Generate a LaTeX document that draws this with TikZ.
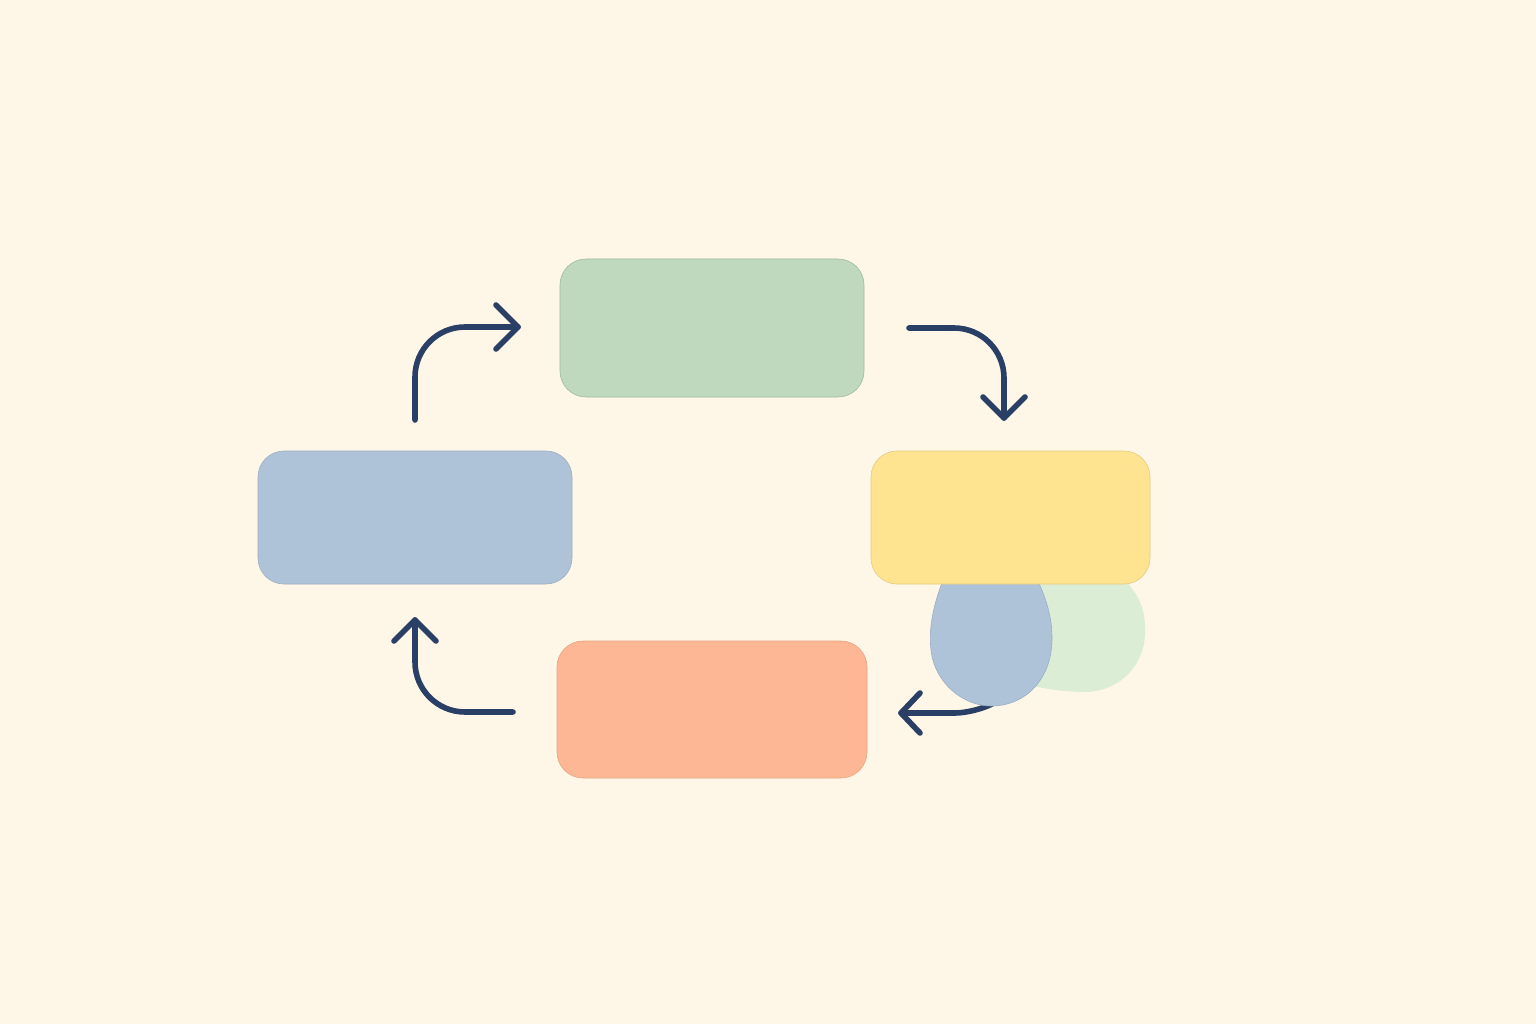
\documentclass[tikz,border=0pt]{standalone}
\usetikzlibrary{arrows.meta}
\definecolor{bg}{HTML}{FEF6E6}
\definecolor{gbox}{HTML}{BFD9BF}
\definecolor{ybox}{HTML}{FEE391}
\definecolor{bbox}{HTML}{AEC2D8}
\definecolor{obox}{HTML}{FEB794}
\definecolor{gblob}{HTML}{DCEDD6}
\definecolor{navy}{HTML}{2A3F66}
\tikzset{
  card/.style={rounded corners=26pt, line width=0.6pt},
  flow/.style={draw=navy, line width=5.6pt, line cap=round, line join=round, rounded corners=50pt},
  chev/.style={draw=navy, line width=5.6pt, line cap=round, line join=round},
}
\begin{document}
\begin{tikzpicture}[x=1pt,y=-1pt]
\fill[bg] (0,0) rectangle (1536,1024);
\useasboundingbox (0,0) rectangle (1536,1024);

\coordinate (g1) at (560,259); \coordinate (g2) at (864,397);
\coordinate (y1) at (871,451); \coordinate (y2) at (1150,584);
\coordinate (b1) at (258,451); \coordinate (b2) at (572,584);
\coordinate (o1) at (557,641); \coordinate (o2) at (867,778);

% blobs
\fill[gblob] (1020,575) -- (1120,575) .. controls (1140,595) and (1146,610) .. (1145,635)
  .. controls (1143,670) and (1115,692) .. (1085,692)
  .. controls (1065,692) and (1045,689) .. (1030,685) -- (1000,640) -- cycle;

% arrow 3 (bottom right)
\coordinate (a3s) at (990,705);
\coordinate (a3t) at (901,713);
\draw[flow, rounded corners=20pt] (a3s) -- (975,713) -- (a3t);
\draw[chev] (920,693) -- (a3t) -- (920,733);

\filldraw[fill=bbox, draw=bbox!85!navy, line width=0.6pt] (945,575) .. controls (935,600) and (928,625) .. (931,650)
  .. controls (935,685) and (965,706) .. (991,706)
  .. controls (1025,706) and (1052,680) .. (1052,638)
  .. controls (1052,615) and (1045,595) .. (1035,575) -- cycle;

\filldraw[card, fill=gbox, draw=gbox!85!black] (g1) rectangle (g2);
\filldraw[card, fill=ybox, draw=ybox!90!black] (y1) rectangle (y2);
\filldraw[card, fill=bbox, draw=bbox!90!black] (b1) rectangle (b2);
\filldraw[card, fill=obox, draw=obox!90!black] (o1) rectangle (o2);

% arrow 1 (top left)
\coordinate (a1s) at (415,420);
\coordinate (a1t) at (518,327);
\draw[flow] (a1s) -- (415,327) -- (a1t);
\draw[chev] (496,305) -- (a1t) -- (496,349);

% arrow 2 (top right)
\coordinate (a2s) at (909,328);
\coordinate (a2t) at (1004,418);
\draw[flow] (a2s) -- (1004,328) -- (a2t);
\draw[chev] (983,397) -- (a2t) -- (1025,397);

% arrow 4 (bottom left)
\coordinate (a4s) at (513,712);
\coordinate (a4t) at (415,620);
\draw[flow] (a4s) -- (415,712) -- (a4t);
\draw[chev] (394,641) -- (a4t) -- (436,641);
\end{tikzpicture}
\end{document}
